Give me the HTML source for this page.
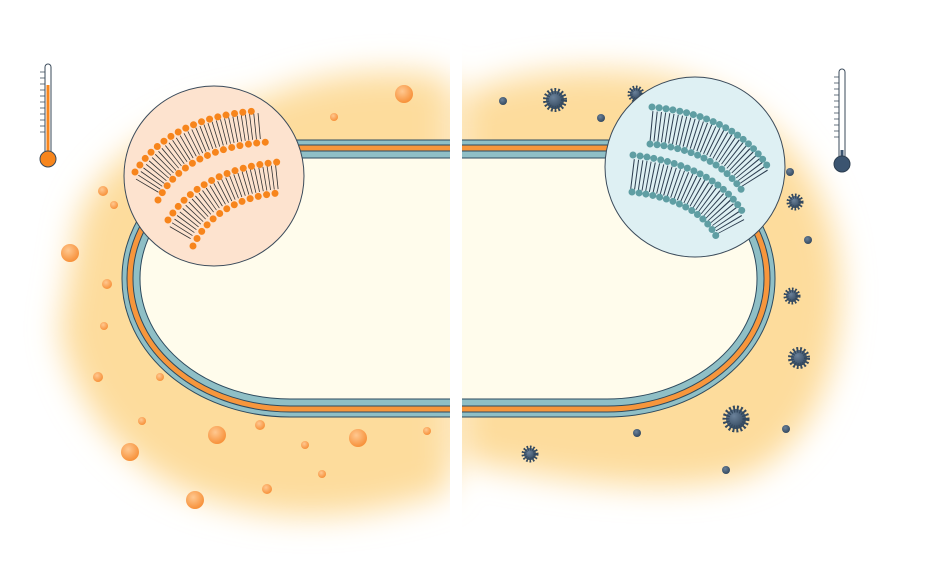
<!DOCTYPE html>
<html><head><style>html,body{margin:0;padding:0;background:#fff;width:945px;height:587px;overflow:hidden}</style></head>
<body>
<svg width="945" height="587" viewBox="0 0 945 587" xmlns="http://www.w3.org/2000/svg">
<defs>
<filter id="bl" x="-20%" y="-20%" width="140%" height="140%"><feGaussianBlur stdDeviation="16"/></filter>
<radialGradient id="og" cx="40%" cy="35%" r="65%"><stop offset="0" stop-color="#ffc890"/><stop offset="1" stop-color="#f7913a"/></radialGradient>
<radialGradient id="dg" cx="40%" cy="35%" r="65%"><stop offset="0" stop-color="#6a819a"/><stop offset="1" stop-color="#34495f"/></radialGradient>
</defs>
<g filter="url(#bl)" fill="#fddc9c">
<path d="M75,240 C80,170 170,110 260,100 C320,70 410,65 450,80 L450,490 C380,515 300,525 230,505 C150,490 75,420 60,330 Z"/>
<path d="M462,95 C520,70 590,65 660,75 C760,95 835,170 840,280 C845,380 800,465 730,480 C650,495 560,480 462,460 Z"/>
</g>
<!-- cell -->
<rect x="122" y="140" width="653" height="277" rx="168" ry="138" fill="#8fbfc6" stroke="#2d4a5e" stroke-width="1"/>
<rect x="127" y="145" width="643" height="267" rx="163" ry="133" fill="#f7963c" stroke="#2d4a5e" stroke-width="1"/>
<rect x="133" y="151" width="631" height="255" rx="157" ry="127" fill="#8fbfc6" stroke="#2d4a5e" stroke-width="1"/>
<rect x="140" y="158" width="617" height="241" rx="150" ry="120" fill="#fffcec" stroke="#2d4a5e" stroke-width="1"/>
<rect x="450" y="0" width="12" height="587" fill="#fff"/>
<g fill="url(#og)">
<circle cx="404" cy="94" r="9"/><circle cx="334" cy="117" r="4"/><circle cx="103" cy="191" r="5"/><circle cx="114" cy="205" r="4"/><circle cx="70" cy="253" r="9"/><circle cx="107" cy="284" r="5"/><circle cx="104" cy="326" r="4"/><circle cx="98" cy="377" r="5"/><circle cx="160" cy="377" r="4"/><circle cx="142" cy="421" r="4"/><circle cx="217" cy="435" r="9"/><circle cx="260" cy="425" r="5"/><circle cx="305" cy="445" r="4"/><circle cx="358" cy="438" r="9"/><circle cx="427" cy="431" r="4"/><circle cx="130" cy="452" r="9"/><circle cx="322" cy="474" r="4"/><circle cx="267" cy="489" r="5"/><circle cx="195" cy="500" r="9"/>
</g>
<g fill="url(#dg)" stroke="#34495f">
<circle cx="555" cy="100" r="9" stroke-width="6" stroke-dasharray="1.6 1.6"/>
<circle cx="636" cy="94" r="6" stroke-width="5" stroke-dasharray="1.4 1.4"/>
<circle cx="795" cy="202" r="6" stroke-width="5" stroke-dasharray="1.4 1.4"/>
<circle cx="792" cy="296" r="6" stroke-width="5" stroke-dasharray="1.4 1.4"/>
<circle cx="799" cy="358" r="8" stroke-width="6" stroke-dasharray="1.6 1.6"/>
<circle cx="736" cy="419" r="10" stroke-width="7" stroke-dasharray="1.7 1.7"/>
<circle cx="530" cy="454" r="6" stroke-width="5" stroke-dasharray="1.4 1.4"/>
</g>
<g fill="url(#dg)">
<circle cx="503" cy="101" r="4"/><circle cx="601" cy="118" r="4"/><circle cx="790" cy="172" r="4"/><circle cx="808" cy="240" r="4"/><circle cx="637" cy="433" r="4"/><circle cx="786" cy="429" r="4"/><circle cx="726" cy="470" r="4"/>
</g>
<circle cx="214" cy="176" r="90" fill="#fde3cf" stroke="#3a4a5a" stroke-width="1"/>
<g fill="none">
<path d="M147,186 Q178,133 260,126" stroke="#333" stroke-width="26" stroke-dasharray="0.8 3.2"/>
<path d="M180,233 Q208,184 278,177" stroke="#333" stroke-width="24" stroke-dasharray="0.8 3.2"/>
<g stroke="#f7851c" stroke-width="7" stroke-linecap="round" stroke-dasharray="0 8.5">
<path d="M135,172 Q170,118 255,111"/>
<path d="M158,200 Q185,148 268,142"/>
<path d="M168,220 Q200,170 278,162"/>
<path d="M193,246 Q215,200 278,193"/>
</g>
</g>
<circle cx="695" cy="167" r="90" fill="#def0f3" stroke="#3a4a5a" stroke-width="1"/>
<g fill="none">
<path d="M651,126 Q728,133 756,180" stroke="#2d3e50" stroke-width="30" stroke-dasharray="1 3"/>
<path d="M632,174 Q708,183 731,227" stroke="#2d3e50" stroke-width="30" stroke-dasharray="1 3"/>
<g stroke="#5f9ea3" stroke-width="7" stroke-linecap="round" stroke-dasharray="0 7">
<path d="M652,107 Q735,115 768,167"/>
<path d="M650,144 Q715,150 743,192"/>
<path d="M633,155 Q715,165 744,214"/>
<path d="M632,192 Q700,200 718,240"/>
</g>
</g>
<g>
<rect x="45" y="64" width="6" height="92" rx="3" fill="#fff" stroke="#3a4a5a" stroke-width="1"/>
<rect x="46.5" y="85" width="3" height="70" fill="#f7851c"/>
<circle cx="48" cy="159" r="8" fill="#f7851c" stroke="#3a4a5a" stroke-width="1"/>
<path d="M40,72h5M40,78h5M40,84h5M40,90h5M40,96h5M40,102h5M40,108h5M40,114h5M40,120h5M40,126h5M40,132h5" stroke="#3a4a5a" stroke-width="0.8"/>
<rect x="839" y="69" width="6" height="92" rx="3" fill="#fff" stroke="#3a4a5a" stroke-width="1"/>
<rect x="840.5" y="150" width="3" height="10" fill="#3b5470"/>
<circle cx="842" cy="164" r="8" fill="#3b5470" stroke="#2d3e50" stroke-width="1"/>
<path d="M834,77h5M834,83h5M834,89h5M834,95h5M834,101h5M834,107h5M834,113h5M834,119h5M834,125h5M834,131h5M834,137h5" stroke="#3a4a5a" stroke-width="0.8"/>
</g>
</svg>
</body></html>
